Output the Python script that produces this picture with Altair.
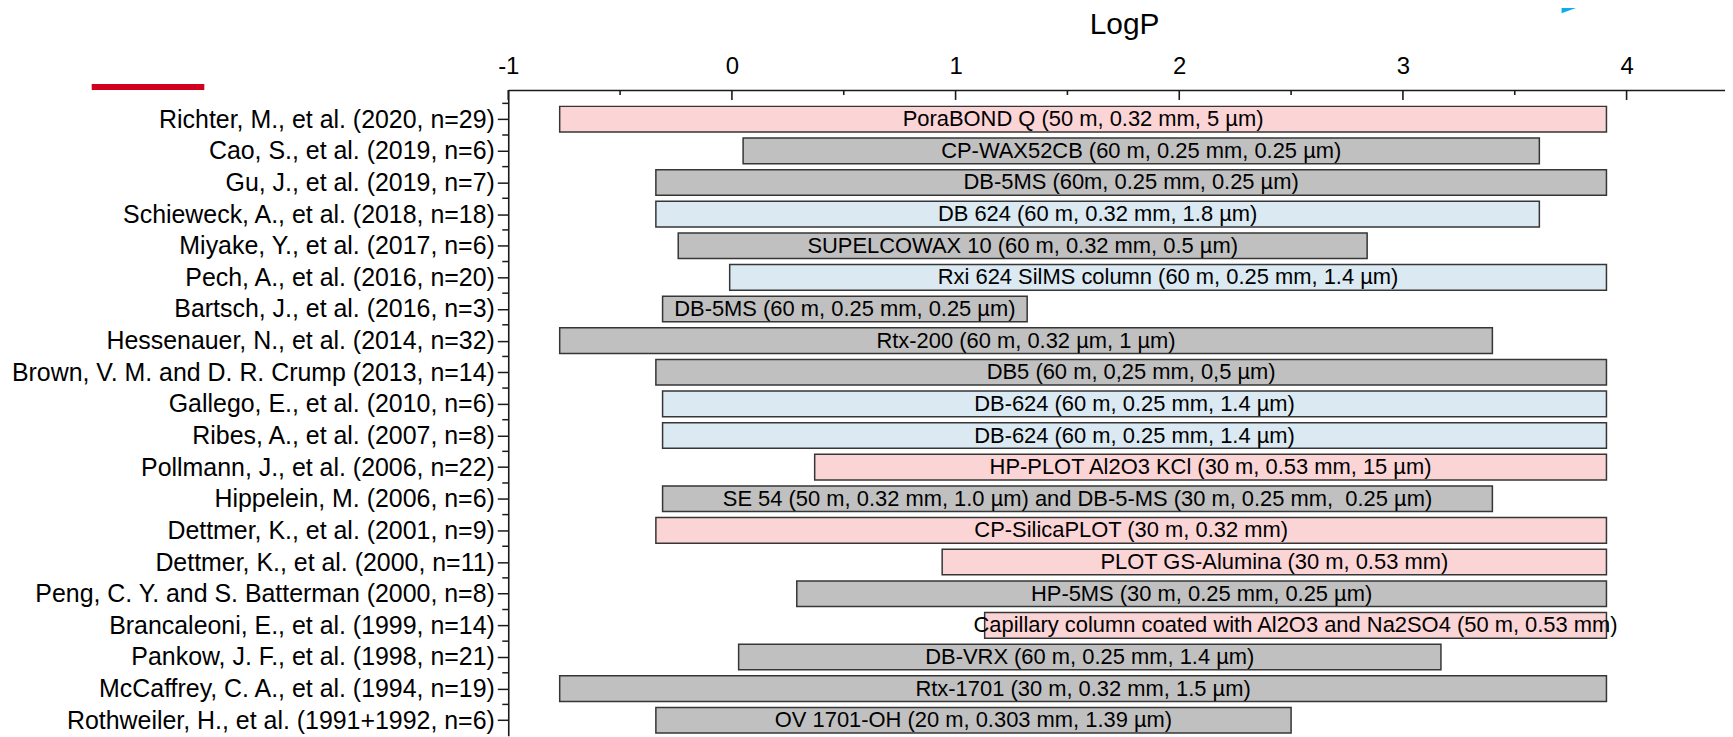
import json
import altair as alt
import pandas as pd

FONT = "Liberation Sans"

studies = [
    "Richter, M., et al. (2020, n=29)",
    "Cao, S., et al. (2019, n=6)",
    "Gu, J., et al. (2019, n=7)",
    "Schieweck, A., et al. (2018, n=18)",
    "Miyake, Y., et al. (2017, n=6)",
    "Pech, A., et al. (2016, n=20)",
    "Bartsch, J., et al. (2016, n=3)",
    "Hessenauer, N., et al. (2014, n=32)",
    "Brown, V. M. and D. R. Crump (2013, n=14)",
    "Gallego, E., et al. (2010, n=6)",
    "Ribes, A., et al. (2007, n=8)",
    "Pollmann, J., et al. (2006, n=22)",
    "Hippelein, M. (2006, n=6)",
    "Dettmer, K., et al. (2001, n=9)",
    "Dettmer, K., et al. (2000, n=11)",
    "Peng, C. Y. and S. Batterman (2000, n=8)",
    "Brancaleoni, E., et al. (1999, n=14)",
    "Pankow, J. F., et al. (1998, n=21)",
    "McCaffrey, C. A., et al. (1994, n=19)",
    "Rothweiler, H., et al. (1991+1992, n=6)\u00a0\u00a0",
]

columns = [
    "PoraBOND Q (50 m, 0.32 mm, 5 µm)",
    "CP-WAX52CB (60 m, 0.25 mm, 0.25 µm)",
    "DB-5MS (60m, 0.25 mm, 0.25 µm)",
    "DB 624 (60 m, 0.32 mm, 1.8 µm)",
    "SUPELCOWAX 10 (60 m, 0.32 mm, 0.5 µm)",
    "Rxi 624 SilMS column (60 m, 0.25 mm, 1.4 µm)",
    "DB-5MS (60 m, 0.25 mm, 0.25 µm)",
    "Rtx-200 (60 m, 0.32 µm, 1 µm)",
    "DB5 (60 m, 0,25 mm, 0,5 µm)",
    "DB-624 (60 m, 0.25 mm, 1.4 µm)",
    "DB-624 (60 m, 0.25 mm, 1.4 µm)",
    "HP-PLOT Al2O3 KCl (30 m, 0.53 mm, 15 µm)",
    "SE 54 (50 m, 0.32 mm, 1.0 µm) and DB-5-MS (30 m, 0.25 mm,\u00a0 0.25 µm)",
    "CP-SilicaPLOT (30 m, 0.32 mm)",
    "PLOT GS-Alumina (30 m, 0.53 mm)",
    "HP-5MS (30 m, 0.25 mm, 0.25 µm)",
    "Capillary column coated with Al2O3 and Na2SO4 (50 m, 0.53 mm)",
    "DB-VRX (60 m, 0.25 mm, 1.4 µm)",
    "Rtx-1701 (30 m, 0.32 mm, 1.5 µm)",
    "OV 1701-OH (20 m, 0.303 mm, 1.39 µm)",
]

phase = [
    "PLOT", "other", "other", "624", "other", "624", "other", "other", "other", "624",
    "624", "PLOT", "other", "PLOT", "PLOT", "other", "PLOT", "other", "other", "other",
]

logp_min = [-0.77, 0.05, -0.34, -0.34, -0.24, -0.01, -0.31, -0.77, -0.34, -0.31,
            -0.31, 0.37, -0.31, -0.34, 0.94, 0.29, 1.13, 0.03, -0.77, -0.34]
logp_max = [3.91, 3.61, 3.91, 3.61, 2.84, 3.91, 1.32, 3.40, 3.91, 3.91,
            3.91, 3.91, 3.40, 3.91, 3.91, 3.91, 3.91, 3.17, 3.91, 2.50]

x_major = [-1, 0, 1, 2, 3, 4]
x_minor = [-0.5, 0.5, 1.5, 2.5, 3.5]
y_minor = [-0.5, 0.5, 1.5, 2.5, 3.5, 4.5, 5.5, 6.5, 7.5, 8.5,
           9.5, 10.5, 11.5, 12.5, 13.5, 14.5, 15.5, 16.5, 17.5, 18.5]

phase_names = ["PLOT", "624", "other"]
phase_colors = ["#FBD4D6", "#DAE9F2", "#C0C0C0"]

df = pd.DataFrame({
    "row": list(range(len(studies))),
    "study": studies,
    "column": columns,
    "phase": phase,
    "lo": logp_min,
    "hi": logp_max,
})

xs = alt.Scale(domain=[-1, 4.44], nice=False, zero=False)
ys = alt.Scale(domain=[-0.923, 19.49], nice=False, zero=False, reverse=True)

label_expr = "[" + ",".join(json.dumps(s) for s in studies) + "][datum.value]"

X_AXIS = alt.Axis(
    orient="top", values=x_major, ticks=False, tickSize=0, labelPadding=17,
    labelExpr="'' + datum.value", labelFontSize=24, labelFont=FONT, labelColor="black",
    labelBaseline="alphabetic", labelFlush=False, labelOverlap=False, grid=False,
    domainColor="#1a1a1a", domainWidth=1.6,
    titleFontSize=30, titleFont=FONT, titleFontWeight="normal", titleColor="black",
    titleX=618, titleY=-57, titleBaseline="alphabetic", titleAlign="center",
)
Y_AXIS = alt.Axis(
    orient="left", values=list(range(len(studies))), labelExpr=label_expr,
    labelFontSize=25, labelFont=FONT, labelColor="black", labelPadding=3,
    labelBaseline="middle", labelLimit=0, labelFlush=False, labelOverlap=False, grid=False,
    tickSize=11, tickWidth=1.5, tickColor="#1a1a1a",
    domainColor="#1a1a1a", domainWidth=1.6,
)

bars = alt.Chart(df).transform_calculate(
    y0="datum.row - 0.405", y1="datum.row + 0.405"
).mark_rect(stroke="#363636", strokeWidth=1.5).encode(
    x=alt.X("lo:Q", scale=xs, title="LogP", axis=X_AXIS),
    x2="hi:Q",
    y=alt.Y("y0:Q", scale=ys, title=None, axis=Y_AXIS),
    y2="y1:Q",
    color=alt.Color("phase:N", scale=alt.Scale(domain=phase_names, range=phase_colors), legend=None),
)

texts = alt.Chart(df).transform_calculate(
    mid="(datum.lo + datum.hi) / 2"
).mark_text(fontSize=22, font=FONT, color="black", baseline="middle", align="center").encode(
    x=alt.X("mid:Q", scale=xs, title="LogP", axis=X_AXIS),
    y=alt.Y("row:Q", scale=ys, title=None, axis=Y_AXIS),
    text="column:N",
)

major_ticks = alt.Chart(pd.DataFrame({"v": x_major})).mark_rule(color="#1a1a1a", strokeWidth=1.6).encode(
    x=alt.X("v:Q", scale=xs, title="LogP", axis=X_AXIS), y=alt.value(0), y2=alt.value(10)
)
minor_ticks = alt.Chart(pd.DataFrame({"v": x_minor})).mark_rule(color="#1a1a1a", strokeWidth=1.6).encode(
    x=alt.X("v:Q", scale=xs, title="LogP", axis=X_AXIS), y=alt.value(0), y2=alt.value(5)
)
y_minor_ticks = alt.Chart(pd.DataFrame({"v": y_minor})).mark_rule(color="#1a1a1a", strokeWidth=1.5).encode(
    y=alt.Y("v:Q", scale=ys, title=None, axis=Y_AXIS), x=alt.value(-6), x2=alt.value(0)
)

deco = alt.Data(values=[{"k": 1}])
red_line = alt.Chart(deco).mark_rule(color="#D2001F", strokeWidth=6).encode(
    x=alt.value(-418), x2=alt.value(-305), y=alt.value(-3)
)
blue_tri = alt.Chart(deco).mark_point(
    shape="M0,0 L0,0.727 L2,0 Z", size=1089, filled=True, color="#0AAEEF", opacity=1, strokeWidth=0
).encode(x=alt.value(1057), y=alt.value(-89))

chart = alt.layer(
    bars, texts, major_ticks, minor_ticks, y_minor_ticks, red_line, blue_tri
).properties(
    width=1221,
    height=648,
    padding={"left": 502, "top": 81, "right": 0, "bottom": 0},
    autosize=alt.AutoSizeParams(type="none"),
).configure_view(stroke=None)

chart.save("out.html", embed_options={"renderer": "svg", "actions": False})
